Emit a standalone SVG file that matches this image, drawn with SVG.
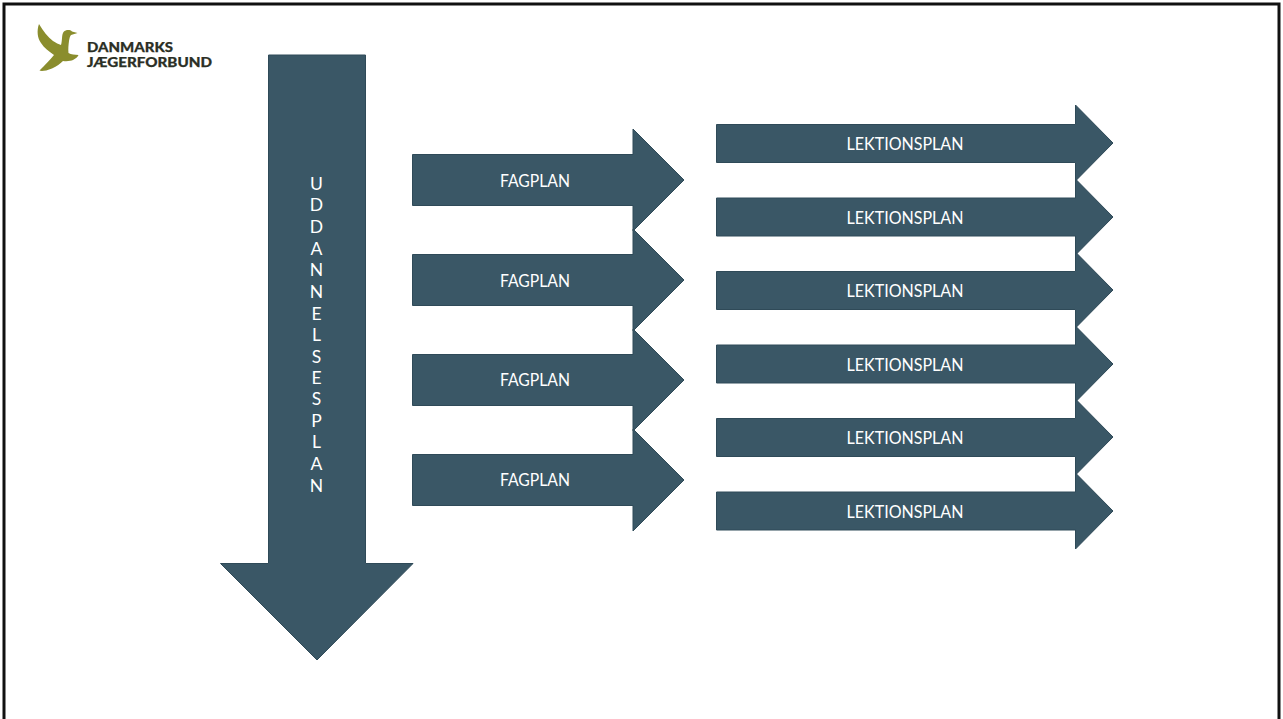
<svg xmlns="http://www.w3.org/2000/svg" width="1283" height="719" viewBox="0 0 1283 719">
<style>
.a{fill:#3a5766;stroke:#2f4a58;stroke-width:1}
.t{font-family:"Lato","Open Sans",sans-serif;font-size:17.5px;fill:#fff;text-anchor:middle}
.v{font-family:"Lato","Open Sans",sans-serif;font-size:17.5px;fill:#fff;text-anchor:middle}
.l{font-family:"Lato","Liberation Sans",sans-serif;font-weight:900;font-size:13.5px;fill:#2b2f25;stroke:#2b2f25;stroke-width:.25}
</style>
<rect x="0" y="0" width="1283" height="719" fill="#fff"/>
<rect x="4" y="4" width="1275" height="730" fill="none" stroke="#111" stroke-width="3"/>
<g id="logo">
<path d="M39 24C36.500 31 37.500 38 41 43C44 48 49 51 54 55C50 60 45 65 39.500 70.500C41 71.500 46 71 52 68.500C57 66.500 60 63.500 63 61C67 61.500 71 61 73 60C76 58.500 77.500 57 78.500 55C75 54.500 71 54.500 68.500 53C68 49 68.500 45 69 41C69.500 38 70 36 71 35L77.500 33L72 31.500C70 29.500 66 29.500 63.500 32C61.500 35 62.500 40 61 45C58.500 44 56 43 53 41C48 37 43 31 39 24Z" fill="#8a8d2d"/>
<text class="l" x="87" y="52" textLength="86" lengthAdjust="spacingAndGlyphs">DANMARKS</text>
<text class="l" x="87" y="67" textLength="125" lengthAdjust="spacingAndGlyphs">JÆGERFORBUND</text>
</g>
<g id="connectors"></g>
<g id="uddannelsesplan">
<path class="a" d="M268.500 55H365.500V563.500H413L317 660L220.500 563.500H268.500Z"/>
<text class="v" x="316.500" y="190">U</text><text class="v" x="316.500" y="211">D</text><text class="v" x="316.500" y="233">D</text><text class="v" x="316.500" y="255">A</text><text class="v" x="316.500" y="276">N</text><text class="v" x="316.500" y="298">N</text><text class="v" x="316.500" y="320">E</text><text class="v" x="316.500" y="341">L</text><text class="v" x="316.500" y="363">S</text><text class="v" x="316.500" y="384">E</text><text class="v" x="316.500" y="405">S</text><text class="v" x="316.500" y="427">P</text><text class="v" x="316.500" y="448">L</text><text class="v" x="316.500" y="470">A</text><text class="v" x="316.500" y="492">N</text>
</g>
<g id="fagplan1"><path class="a" d="M412.500 154.500H633V129L684 180L633 231V205.500H412.500Z"/><text class="t" x="535" y="187" textLength="70" lengthAdjust="spacingAndGlyphs">FAGPLAN</text></g>
<g id="fagplan2"><path class="a" d="M412.500 254.500H633V229L684 280L633 331V305.500H412.500Z"/><text class="t" x="535" y="287" textLength="70" lengthAdjust="spacingAndGlyphs">FAGPLAN</text></g>
<g id="fagplan3"><path class="a" d="M412.500 354.500H633V329L684 380L633 431V405.500H412.500Z"/><text class="t" x="535" y="386" textLength="70" lengthAdjust="spacingAndGlyphs">FAGPLAN</text></g>
<g id="fagplan4"><path class="a" d="M412.500 454.500H633V429L684 480L633 531V505.500H412.500Z"/><text class="t" x="535" y="486" textLength="70" lengthAdjust="spacingAndGlyphs">FAGPLAN</text></g>
<g id="lektionsplan1"><path class="a" d="M716.500 124.500H1075.500V105L1113 143L1075.500 181V162.500H716.500Z"/><text class="t" x="905" y="150" textLength="117" lengthAdjust="spacingAndGlyphs">LEKTIONSPLAN</text></g>
<g id="lektionsplan2"><path class="a" d="M716.500 198H1075.500V179L1113 217L1075.500 255V236H716.500Z"/><text class="t" x="905" y="224" textLength="117" lengthAdjust="spacingAndGlyphs">LEKTIONSPLAN</text></g>
<g id="lektionsplan3"><path class="a" d="M716.500 271.500H1075.500V252L1113 290L1075.500 328V309.500H716.500Z"/><text class="t" x="905" y="297" textLength="117" lengthAdjust="spacingAndGlyphs">LEKTIONSPLAN</text></g>
<g id="lektionsplan4"><path class="a" d="M716.500 345H1075.500V326L1113 364L1075.500 402V383H716.500Z"/><text class="t" x="905" y="371" textLength="117" lengthAdjust="spacingAndGlyphs">LEKTIONSPLAN</text></g>
<g id="lektionsplan5"><path class="a" d="M716.500 418.500H1075.500V399L1113 437L1075.500 475V456.500H716.500Z"/><text class="t" x="905" y="444" textLength="117" lengthAdjust="spacingAndGlyphs">LEKTIONSPLAN</text></g>
<g id="lektionsplan6"><path class="a" d="M716.500 492H1075.500V473L1113 511L1075.500 549V530H716.500Z"/><text class="t" x="905" y="518" textLength="117" lengthAdjust="spacingAndGlyphs">LEKTIONSPLAN</text></g>
</svg>
